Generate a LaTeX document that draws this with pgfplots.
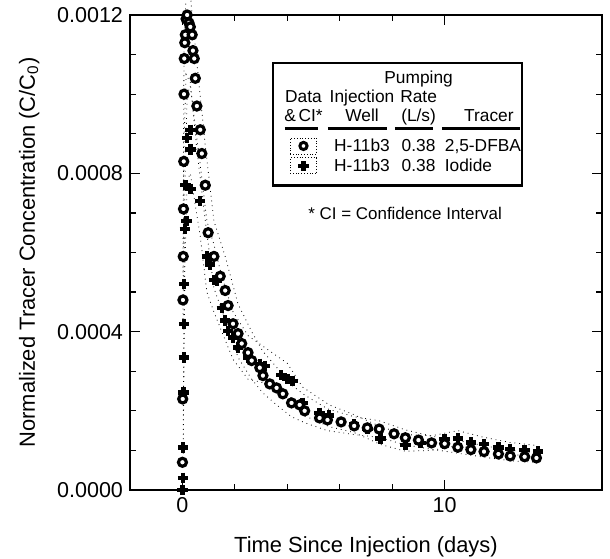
\documentclass[border=0pt]{standalone}
\usepackage{pgfplots}
\pgfplotsset{compat=1.18}
\usepackage{fontspec}
\setmainfont{Liberation Sans}

% 2,5-DFBA (circles)
\pgfplotstableread{
t c
0.00 0.00007
0.01 0.00023
0.02 0.00048
0.03 0.00059
0.04 0.00071
0.05 0.00083
0.06 0.00100
0.07 0.00109
0.09 0.00113
0.11 0.00115
0.14 0.00119
0.18 0.00120
0.25 0.00118
0.30 0.00117
0.37 0.00115
0.40 0.00111
0.45 0.00109
0.49 0.00104
0.55 0.00097
0.68 0.00091
0.74 0.00085
0.87 0.00077
0.98 0.00065
1.20 0.00059
1.44 0.00054
1.63 0.000504
1.74 0.000466
1.93 0.00042
2.12 0.000395
2.26 0.00037
2.50 0.000347
2.64 0.000327
2.95 0.000309
3.07 0.000289
3.33 0.000268
3.59 0.000258
3.83 0.000243
4.16 0.00022
4.47 0.000215
4.66 0.0002
5.23 0.000182
5.53 0.000177
6.05 0.000172
6.55 0.000162
7.05 0.000157
7.50 0.000154
8.07 0.000142
8.50 0.000132
9.00 0.000126
9.50 0.000119
10.00 0.000117
10.50 0.000108
11.00 0.000102
11.50 0.000097
12.05 0.000091
12.50 0.000086
13.05 0.000084
13.50 0.000081
}\dfba

% iodide (pluses)
\pgfplotstableread{
t c
0.00 0.0
0.02 0.000031
0.03 0.000107
0.04 0.000246
0.05 0.000335
0.06 0.00042
0.07 0.00052
0.09 0.00066
0.15 0.00068
0.11 0.00077
0.18 0.00089
0.30 0.00091
0.30 0.00086
0.30 0.00076
0.68 0.00073
0.93 0.00059
1.06 0.00057
1.20 0.00053
1.31 0.000529
1.50 0.00046
1.63 0.000428
1.74 0.000402
1.93 0.000385
2.12 0.00036
2.50 0.000335
2.95 0.000319
3.14 0.000314
3.77 0.00029
4.00 0.000281
4.20 0.000276
4.58 0.00022
5.23 0.000195
5.60 0.000188
6.05 0.000172
6.55 0.000165
7.05 0.000154
7.56 0.00013
8.07 0.000142
8.50 0.000113
9.08 0.000119
10.00 0.000129
10.50 0.00013
11.00 0.00012
11.50 0.000116
12.05 0.000107
12.50 0.000104
13.05 0.000101
13.56 0.000097
}\iodide

% confidence intervals
\pgfplotstableread{
t lo hi
0.02 0.00042 0.00055
0.06 0.00088 0.00112
0.14 0.00105 0.00125
0.30 0.00103 0.00125
0.55 0.00086 0.00108
0.87 0.00068 0.00087
1.20 0.00051 0.00068
1.63 0.00043 0.00059
2.12 0.000335 0.00047
2.64 0.00028 0.00040
3.07 0.000245 0.00035
3.59 0.000215 0.00031
4.16 0.000185 0.000265
4.66 0.00017 0.00024
5.53 0.00015 0.000205
6.55 0.00014 0.000185
7.50 0.000133 0.000175
8.50 0.000114 0.000152
9.50 0.000103 0.000136
10.50 0.000093 0.000125
11.50 0.000083 0.000112
12.50 0.000074 0.0001
13.50 0.00007 0.000094
}\ciA

\pgfplotstableread{
t lo hi
0.03 0.00008 0.00014
0.06 0.00034 0.0005
0.09 0.00056 0.00076
0.18 0.00078 0.00100
0.30 0.0008 0.00102
0.68 0.00064 0.00082
0.93 0.0005 0.00068
1.20 0.00045 0.00062
1.50 0.0004 0.00054
1.93 0.00033 0.00045
2.50 0.00028 0.00039
3.14 0.00027 0.00036
4.00 0.000245 0.00032
4.58 0.00019 0.00026
5.60 0.00016 0.000215
6.55 0.000145 0.00019
7.56 0.000115 0.00016
8.50 0.000098 0.00014
9.50 0.0001 0.000137
10.50 0.000112 0.00015
11.50 0.0001 0.000133
12.50 0.00009 0.00012
13.56 0.000085 0.000112
}\ciB

\newsavebox\symA
\newsavebox\symB

\begin{document}%
\sbox\symA{\tikz[baseline=-2.9bp]{\draw[densely dotted, line width=0.4pt] (-6.5bp,-4bp) rectangle (6.5bp,4bp); \draw[line width=1.5pt, fill=white] (0,0) circle (1.8bp);}}%
\sbox\symB{\tikz[baseline=-2.9bp]{\draw[densely dotted, line width=0.4pt] (-6.5bp,-4bp) rectangle (6.5bp,4bp); \draw[line width=2.1pt] (-2.6bp,0) -- (2.6bp,0) (0,-2.6bp) -- (0,2.6bp);}}%
\begin{tikzpicture}
\begin{axis}[
  name=ax,
  scale only axis,
  width=236bp, height=237.5bp,
  xmin=-2, xmax=16,
  ymin=0, ymax=0.0012,
  xtick={0,10},
  minor x tick num=4,
  ytick={0,0.0004,0.0008,0.0012},
  minor y tick num=3,
  scaled y ticks=false,
  yticklabel style={/pgf/number format/.cd, fixed, fixed zerofill, precision=4},
  /pgf/number format/assume math mode=true,
  tick style={black, line width=0.6pt},
  major tick length=5bp,
  minor tick length=3bp,
  axis line style={line width=1.3pt},
  tick label style={font=\fontsize{10.8}{12}\selectfont},
  label style={font=\fontsize{11}{12}\selectfont},
  xlabel={Time Since Injection (days)},
  ylabel={Normalized Tracer Concentration (C/C\textsubscript{0})},
  xlabel style={yshift=-5.5bp},
  ylabel style={yshift=2bp},
  clip=false,
]
\addplot[black, dotted, line width=0.4pt] table[x=t, y=lo] {\ciA};
\addplot[black, dotted, line width=0.4pt] table[x=t, y=hi] {\ciA};
\addplot[black, dotted, line width=0.4pt] table[x=t, y=lo] {\ciB};
\addplot[black, dotted, line width=0.4pt] table[x=t, y=hi] {\ciB};
\addplot[only marks, mark=+, mark size=2.6bp, mark options={line width=2.2pt, black}] table[x=t, y=c] {\iodide};
\addplot[only marks, mark=*, mark size=2bp, mark options={draw=black, fill=white, line width=1.6pt}] table[x=t, y=c] {\dfba};

\node[draw, line width=1.2pt, anchor=north west, inner sep=0pt,
      font=\fontsize{8.7}{9.6}\selectfont]
  at (rel axis cs:0.301,0.901) {%
  \begin{tabular}{@{\hspace{5.5bp}}c@{\hspace{3.5bp}}c@{\hspace{3bp}}c@{\hspace{4bp}}l@{\hspace{0.5bp}}}
  \rule{0pt}{10pt} & & \makebox[0pt]{Pumping} & \\
  Data & Injection & Rate & \\
  \&\hspace{-1pt} CI* & Well & (L/s) & \multicolumn{1}{c@{\hspace{0.5bp}}}{Tracer}\\[5.2bp]
  \usebox\symA & H-11b3 & 0.38 & 2,5-DFBA\\
  \usebox\symB & H-11b3 & 0.38 & Iodide\\[4pt]
  \end{tabular}};
% header underlines of the legend table
\draw[line width=1.3pt] (rel axis cs:0.328,0.761) -- (rel axis cs:0.398,0.761);
\draw[line width=1.3pt] (rel axis cs:0.419,0.761) -- (rel axis cs:0.545,0.761);
\draw[line width=1.3pt] (rel axis cs:0.561,0.761) -- (rel axis cs:0.641,0.761);
\draw[line width=1.3pt] (rel axis cs:0.661,0.761) -- (rel axis cs:0.826,0.761);
\node[font=\fontsize{8.5}{10}\selectfont] at (rel axis cs:0.583,0.583) {* CI = Confidence Interval};
\end{axis}
\pgfresetboundingbox
\path ([xshift=-65bp,yshift=-34.5bp]ax.south west) rectangle ([xshift=4bp,yshift=7.5bp]ax.north east);
\end{tikzpicture}%
\end{document}
